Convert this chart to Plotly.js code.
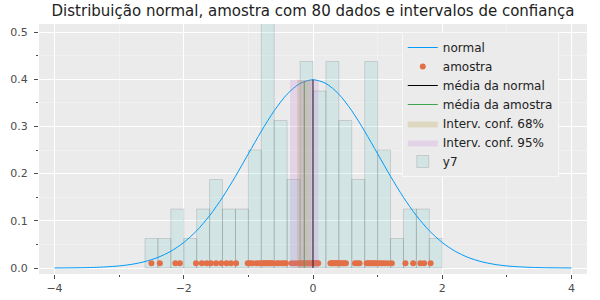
<!DOCTYPE html>
<html>
<head>
<meta charset="utf-8">
<script src="https://cdn.plot.ly/plotly-3.0.1.min.js"></script>
<style>html,body{margin:0;padding:0;background:#fff}#chart{width:600px;height:300px}</style>
</head>
<body>
<div id="chart"></div>
<script>
// ---- data ----
const normalX = [-4.0,-3.8,-3.6,-3.4,-3.2,-3.0,-2.8,-2.6,-2.4,-2.2,-2.0,-1.8,-1.6,-1.4,-1.2,-1.0,-0.8,-0.6,-0.4,-0.2,0.0,
                 0.2,0.4,0.6,0.8,1.0,1.2,1.4,1.6,1.8,2.0,2.2,2.4,2.6,2.8,3.0,3.2,3.4,3.6,3.8,4.0];
const normalY = [0.0001,0.0003,0.0006,0.0012,0.0024,0.0044,0.0079,0.0136,0.0224,0.0355,0.0540,0.0790,0.1109,0.1497,0.1942,0.2420,0.2897,0.3332,0.3683,0.3910,0.3989,
                 0.3910,0.3683,0.3332,0.2897,0.2420,0.1942,0.1497,0.1109,0.0790,0.0540,0.0355,0.0224,0.0136,0.0079,0.0044,0.0024,0.0012,0.0006,0.0003,0.0001];
const sample = [
  -2.50,-2.37,-2.13,-2.06,-1.81,-1.72,-1.645,-1.58,-1.50,-1.42,-1.34,-1.27,-1.19,-1.01,
  -0.98,-0.94,-0.875,-0.83,
  -0.79,-0.77,-0.74,-0.72,-0.70,-0.68,-0.66,-0.64,-0.62,
  -0.56,-0.53,-0.485,-0.45,-0.42,
  -0.33,-0.28,-0.23,
  -0.19,-0.16,-0.13,-0.10,-0.07,-0.04,-0.02,
  0.01,0.02,0.04,0.06,0.07,0.08,
  0.27,0.29,0.31,0.33,0.35,0.37,0.39,
  0.41,0.43,0.46,0.48,0.51,
  0.65,0.69,0.72,
  0.83,0.86,0.88,0.91,0.94,0.96,0.99,
  1.03,1.07,1.11,1.16,
  1.22,1.43,1.55,1.66,1.72,1.82
];
const sampleLevel = 0.01;
const normalMean = 0.0;
const normalMeanTop = 0.3989;
const sampleMean = -0.135;
const sampleMeanTop = 0.395;
const ci68 = [-0.247, -0.023];
const ci95 = [-0.354, 0.084];
const bandTop = 0.3989;
const binStart = -2.6, binEnd = 2.0, binSize = 0.2;
const xTicks = [-4, -2, 0, 2, 4];
const yTicks = [0.0, 0.1, 0.2, 0.3, 0.4, 0.5];

// ---- traces ----
const traces = [
  {x: normalX, y: normalY, type: 'scatter', mode: 'lines', name: 'normal',
   line: {color: '#009af9', width: 1, shape: 'spline', smoothing: 0.8}},
  {x: sample, y: sample.map(() => sampleLevel), type: 'scatter', mode: 'markers', name: 'amostra',
   marker: {color: '#e26f46', size: 6, line: {width: 0}}},
  {x: [normalMean, normalMean], y: [0, normalMeanTop], type: 'scatter', mode: 'lines', name: 'média da normal',
   line: {color: '#000000', width: 1}},
  {x: [sampleMean, sampleMean], y: [0, sampleMeanTop], type: 'scatter', mode: 'lines', name: 'média da amostra',
   line: {color: '#3da44d', width: 1}},
  {x: [ci68[0], ci68[1], ci68[1], ci68[0], ci68[0]], y: [0, 0, bandTop, bandTop, 0], type: 'scatter', mode: 'lines',
   fill: 'toself', name: 'Interv. conf. 68%', fillcolor: 'rgba(172,141,24,0.2)', line: {width: 0, color: 'rgba(0,0,0,0)'}},
  {x: [ci95[0], ci95[1], ci95[1], ci95[0], ci95[0]], y: [0, 0, bandTop, bandTop, 0], type: 'scatter', mode: 'lines',
   fill: 'toself', name: 'Interv. conf. 95%', fillcolor: 'rgba(194,113,210,0.2)', line: {width: 0, color: 'rgba(0,0,0,0)'}},
  {x: sample, type: 'histogram', name: 'y7', histnorm: 'probability density',
   xbins: {start: binStart, end: binEnd, size: binSize}, autobinx: false,
   marker: {color: 'rgba(0,169,173,0.1)', line: {color: 'rgba(0,0,0,0.12)', width: 1}}}
];

const axisFont = {family: 'DejaVu Sans', size: 11, color: '#4d4d4d'};
const layout = {
  width: 600, height: 300,
  paper_bgcolor: '#ffffff', plot_bgcolor: '#ebebeb',
  margin: {l: 39, r: 13, t: 24, b: 26, pad: 0},
  font: {family: 'DejaVu Sans', color: '#222'},
  title: {text: 'Distribuição normal, amostra com 80 dados e intervalos de confiança',
          font: {family: 'DejaVu Sans', size: 15, color: '#222'},
          x: 0.5, xref: 'paper', xanchor: 'center', y: 0.965, yref: 'container', yanchor: 'middle'},
  showlegend: true,
  barmode: 'overlay',
  xaxis: {range: [-4.24, 4.24], tickvals: xTicks, ticktext: xTicks.map(v => (v < 0 ? '−' : '') + Math.abs(v)),
          showgrid: true, gridcolor: '#ffffff', gridwidth: 1, zeroline: false, showline: false,
          ticks: 'outside', ticklen: 4, tickcolor: '#4d4d4d', tickfont: axisFont,
          minor: {dtick: 1, tick0: 0, showgrid: true, gridcolor: 'rgba(255,255,255,0.6)', gridwidth: 0.5,
                  ticks: 'outside', ticklen: 2, tickcolor: '#4d4d4d'}},
  yaxis: {range: [-0.0127, 0.517], tickvals: yTicks, ticktext: yTicks.map(v => v.toFixed(1)),
          showgrid: true, gridcolor: '#ffffff', gridwidth: 1, zeroline: false, showline: false,
          ticks: 'outside', ticklen: 4, tickcolor: '#4d4d4d', tickfont: axisFont, ticklabelstandoff: 4,
          minor: {dtick: 0.05, tick0: 0, showgrid: true, gridcolor: 'rgba(255,255,255,0.6)', gridwidth: 0.5,
                  ticks: 'outside', ticklen: 2, tickcolor: '#4d4d4d'}},
  legend: {x: 0.662, y: 0.968, xanchor: 'left', yanchor: 'top', bgcolor: '#ebebeb',
           bordercolor: '#f7f7f7', borderwidth: 1, font: {family: 'DejaVu Sans', size: 12, color: '#222'},
           traceorder: 'normal'}
};

Plotly.newPlot('chart', traces, layout, {displayModeBar: false, staticPlot: true});
</script>
</body>
</html>
